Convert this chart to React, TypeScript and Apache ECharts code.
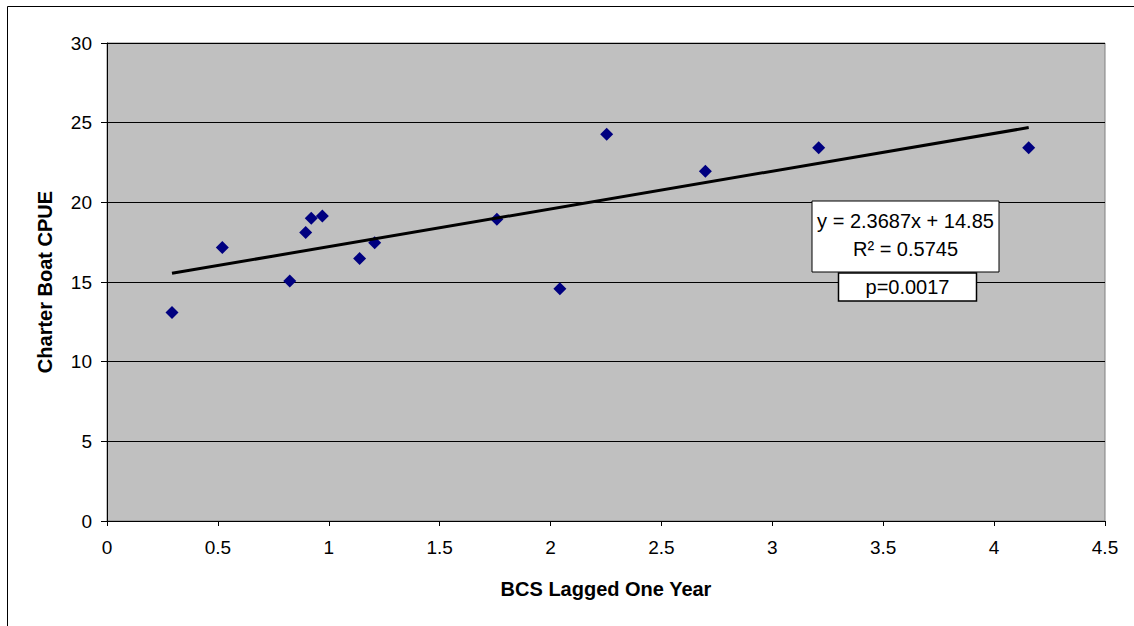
import React, { useEffect, useRef } from "react";
import * as echarts from "echarts";

const bcsLagged = [0.293, 0.52, 0.824, 0.896, 0.921, 0.971, 1.139, 1.207, 1.758, 2.042, 2.253, 2.698, 3.209, 4.156];
const charterCpue = [13.08, 17.16, 15.07, 18.1, 19.0, 19.15, 16.47, 17.47, 18.94, 14.58, 24.27, 21.95, 23.43, 23.43];
const trendSlope = 2.3687;
const trendIntercept = 14.85;
const equationLines = ["y = 2.3687x + 14.85", "R\u00B2 = 0.5745"];
const pLabel = "p=0.0017";
const xTitle = "BCS Lagged One Year";
const yTitle = "Charter Boat CPUE";

const FONT = "Arial, 'Liberation Sans', sans-serif";

export default function App() {
  const ref = useRef<HTMLDivElement>(null);
  useEffect(() => {
    if (!ref.current) return;
    const chart = echarts.init(ref.current, undefined, { renderer: "svg" });
    const pts = bcsLagged.map((x, i) => [x, charterCpue[i]]);
    const xMin = Math.min(...bcsLagged);
    const xMax = Math.max(...bcsLagged);
    const trend = [
      [xMin, trendSlope * xMin + trendIntercept],
      [xMax, trendSlope * xMax + trendIntercept],
    ];
    chart.setOption({
      animation: false,
      backgroundColor: "#ffffff",
      grid: {
        left: 107,
        top: 43,
        right: 29,
        bottom: 105,
        show: true,
        backgroundColor: "#C0C0C0",
        borderColor: "#808080",
        borderWidth: 1,
      },
      xAxis: {
        type: "value",
        min: 0,
        max: 4.5,
        interval: 0.5,
        name: xTitle,
        nameLocation: "middle",
        nameGap: 58,
        nameTextStyle: { fontFamily: FONT, fontSize: 20, fontWeight: "bold", color: "#000" },
        axisLine: { show: true, onZero: false, lineStyle: { color: "#000", width: 1 } },
        axisTick: { show: true, inside: false, length: 5, lineStyle: { color: "#000" } },
        axisLabel: { fontFamily: FONT, fontSize: 19, color: "#000", margin: 17 },
        splitLine: { show: false },
      },
      yAxis: {
        type: "value",
        min: 0,
        max: 30,
        interval: 5,
        name: yTitle,
        nameLocation: "middle",
        nameGap: 52,
        nameTextStyle: { fontFamily: FONT, fontSize: 20, fontWeight: "bold", color: "#000" },
        axisLine: { show: true, onZero: false, lineStyle: { color: "#000", width: 1 } },
        axisTick: { show: true, inside: false, length: 6, lineStyle: { color: "#000" } },
        axisLabel: { fontFamily: FONT, fontSize: 19, color: "#000", margin: 15 },
        splitLine: { show: true, lineStyle: { color: "#000", width: 1 } },
      },
      series: [
        {
          type: "scatter",
          data: pts,
          symbol: "diamond",
          symbolSize: 13,
          itemStyle: { color: "#000080", opacity: 1 },
          z: 3,
        },
        {
          type: "line",
          data: trend,
          showSymbol: false,
          symbol: "none",
          lineStyle: { color: "#000", width: 3 },
          z: 4,
        },
      ],
      graphic: [
        {
          type: "rect",
          shape: { x: 7.5, y: 6.5, width: 1200, height: 700 },
          style: { fill: "none", stroke: "#000", lineWidth: 1 },
          silent: true,
          z: 0,
        },
        {
          type: "rect",
          shape: { x: 812, y: 201, width: 187, height: 71 },
          style: { fill: "#fff", stroke: "#000", lineWidth: 1 },
          z: 10,
        },
        {
          type: "text",
          x: 905.5,
          y: 221,
          style: {
            text: equationLines[0],
            fontFamily: FONT,
            fontSize: 20,
            fill: "#000",
            align: "center",
            verticalAlign: "middle",
          },
          z: 11,
        },
        {
          type: "text",
          x: 905.5,
          y: 249,
          style: {
            text: equationLines[1],
            fontFamily: FONT,
            fontSize: 20,
            fill: "#000",
            align: "center",
            verticalAlign: "middle",
          },
          z: 11,
        },
        {
          type: "rect",
          shape: { x: 838.5, y: 273, width: 138, height: 28 },
          style: { fill: "#fff", stroke: "#000", lineWidth: 1.5 },
          z: 10,
        },
        {
          type: "text",
          x: 907.5,
          y: 287,
          style: {
            text: pLabel,
            fontFamily: FONT,
            fontSize: 20,
            fill: "#000",
            align: "center",
            verticalAlign: "middle",
          },
          z: 11,
        },
      ],
    });
    return () => chart.dispose();
  }, []);
  return (
    <div
      ref={ref}
      style={{ position: "fixed", left: 0, top: 0, width: 1134, height: 626 }}
    />
  );
}
